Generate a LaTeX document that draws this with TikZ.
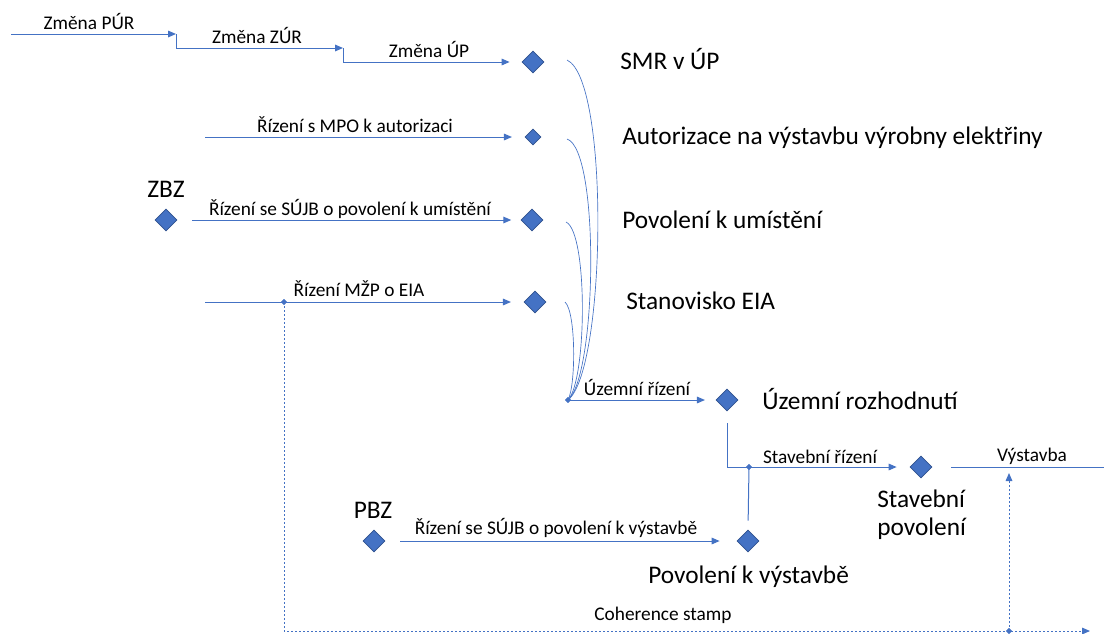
\documentclass[tikz,border=0pt]{standalone}
\usepackage{fontspec}
\setmainfont{Carlito}
\usetikzlibrary{shapes.geometric,arrows.meta}
\definecolor{ln}{HTML}{4472C4}
\definecolor{dk}{HTML}{2F528F}
\begin{document}
\begin{tikzpicture}[x=0.75pt,y=-0.75pt,
  conn/.style={draw=ln,line width=0.75pt},
  arr/.style={conn,-{Triangle[length=6pt,width=5pt]}},
  dia/.style={diamond,draw=dk,fill=ln,line width=0.6pt,inner sep=0pt,minimum width=16.5pt,minimum height=16.5pt},
  sdia/.style={dia,minimum width=12pt,minimum height=12pt},
  dotn/.style={diamond,fill=ln,inner sep=0pt,minimum width=4.5pt,minimum height=4.5pt},
  lab/.style={font=\fontsize{14.5}{16}\selectfont,anchor=base,inner sep=0pt},
  big/.style={font=\fontsize{19}{22}\selectfont,anchor=base west,inner sep=0pt},
  curve/.style={draw=ln,line width=0.5pt},
  dots/.style={draw=ln,line width=0.75pt,dash pattern=on 1.5pt off 1.5pt}
]
\useasboundingbox (0,0) rectangle (1104,633);

% diamonds
\node[dia] (d1) at (533,62) {};
\node[sdia] (d2) at (533,137) {};
\node[dia] (d3) at (532,220) {};
\node[dia] (d4) at (535,302) {};
\node[dia] (zbz) at (166,220) {};
\node[dia] (ur) at (727,400) {};
\node[dia] (sp) at (921,467) {};
\node[dia] (pv) at (748,541) {};
\node[dia] (pbz) at (374,541) {};
\node[dotn] (m) at (568,400) {};
\node[dotn] (eiadot) at (284,302) {};
\node[dotn] (sd) at (749,467) {};
\node[dotn] (cd) at (1009,631) {};

% coordinates
\coordinate (a0) at (11,34);
\coordinate (a1) at (176,34);
\coordinate (b1) at (343,48);
\coordinate (r2) at (205,137);
\coordinate (r4) at (205,302);
\coordinate (k1) at (567,60);
\coordinate (k2) at (567,139);
\coordinate (k3) at (566,222);
\coordinate (k4) at (565,302);
\coordinate (vend) at (1104,467);
\coordinate (cend) at (1090,631);
\coordinate (vtip) at (1009,473);

% top steps
\draw[arr] (a0) -- (a1);
\draw[arr] (a1) |- (b1);
\draw[arr,shorten >=9pt] (b1) |- (d1.west);

% rows
\draw[arr,shorten >=9.5pt] (r2) -- (d2.west);
\draw[arr,shorten <=11pt,shorten >=7pt] (zbz.east) -- (d3.west);
\draw[arr,shorten >=9.5pt] (r4) -- (d4.west);

% curves into merge point
\draw[curve] (k1) .. controls (610,80) and (606,370) .. (m.center);
\draw[curve] (k2) .. controls (600,150) and (597,375) .. (m.center);
\draw[curve] (k3) .. controls (588,232) and (587,380) .. (m.center);
\draw[curve] (k4) .. controls (576,312) and (576,385) .. (m.center);

% lower flow
\draw[arr,shorten >=8pt] (m.center) -- (ur.west);
\draw[conn,shorten <=9pt] (ur.south) |- (sd.center);
\draw[arr,shorten >=9.75pt] (sd.center) -- (sp.west);
\draw[conn,shorten >=6.75pt] (sd.center) -- (pv.north);
\draw[arr,shorten <=11pt,shorten >=12.75pt] (pbz.east) -- (pv.west);
\draw[conn,shorten <=14pt] (sp.east) -- (vend);

% dotted coherence
\draw[dots,-{Triangle[length=6pt,width=5pt]}] (eiadot.center) |- (cend);
\draw[dots,-{Triangle[length=6pt,width=5pt]}] (cd.center) -- (vtip);
\node[dotn] at (cd) {};
\node[dotn] at (eiadot) {};
\node[dotn] at (sd) {};
\node[dotn] at (m) {};

% small labels
\node[lab] (l1) at (89,29.5) {Změna PÚR};
\node[lab] (l2) at (257,43) {Změna ZÚR};
\node[lab] (l3) at (429,57) {Změna ÚP};
\node[lab] (l4) at (355,132) {Řízení s MPO k autorizaci};
\node[lab] (l5) at (350,215) {Řízení se SÚJB o povolení k umístění};
\node[lab] (l6) at (359,296) {Řízení MŽP o EIA};
\node[lab] (l7) at (637,395) {Územní řízení};
\node[lab] (l8) at (820,463) {Stavební řízení};
\node[lab] (l9) at (1032,461) {Výstavba};
\node[lab] (l10) at (556,534) {Řízení se SÚJB o povolení k výstavbě};
\node[lab] (l11) at (663,620) {Coherence stamp};

% big labels
\node[big,anchor=base] (t0) at (166,197) {ZBZ};
\node[big,anchor=base] (t00) at (373,518) {PBZ};
\node[big] (t1) at (620,69) {SMR v ÚP};
\node[big] (t2) at (622,144) {Autorizace na výstavbu výrobny elektřiny};
\node[big] (t3) at (622,228) {Povolení k umístění};
\node[big] (t4) at (626,309) {Stanovisko EIA};
\node[big] (t5) at (762,409) {Územní rozhodnutí};
\node[big] (t6) at (648,583) {Povolení k výstavbě};
\node[big] (t7) at (877,507) {Stavební};
\node[big] (t8) at (877,535) {povolení};
\end{tikzpicture}
\end{document}
